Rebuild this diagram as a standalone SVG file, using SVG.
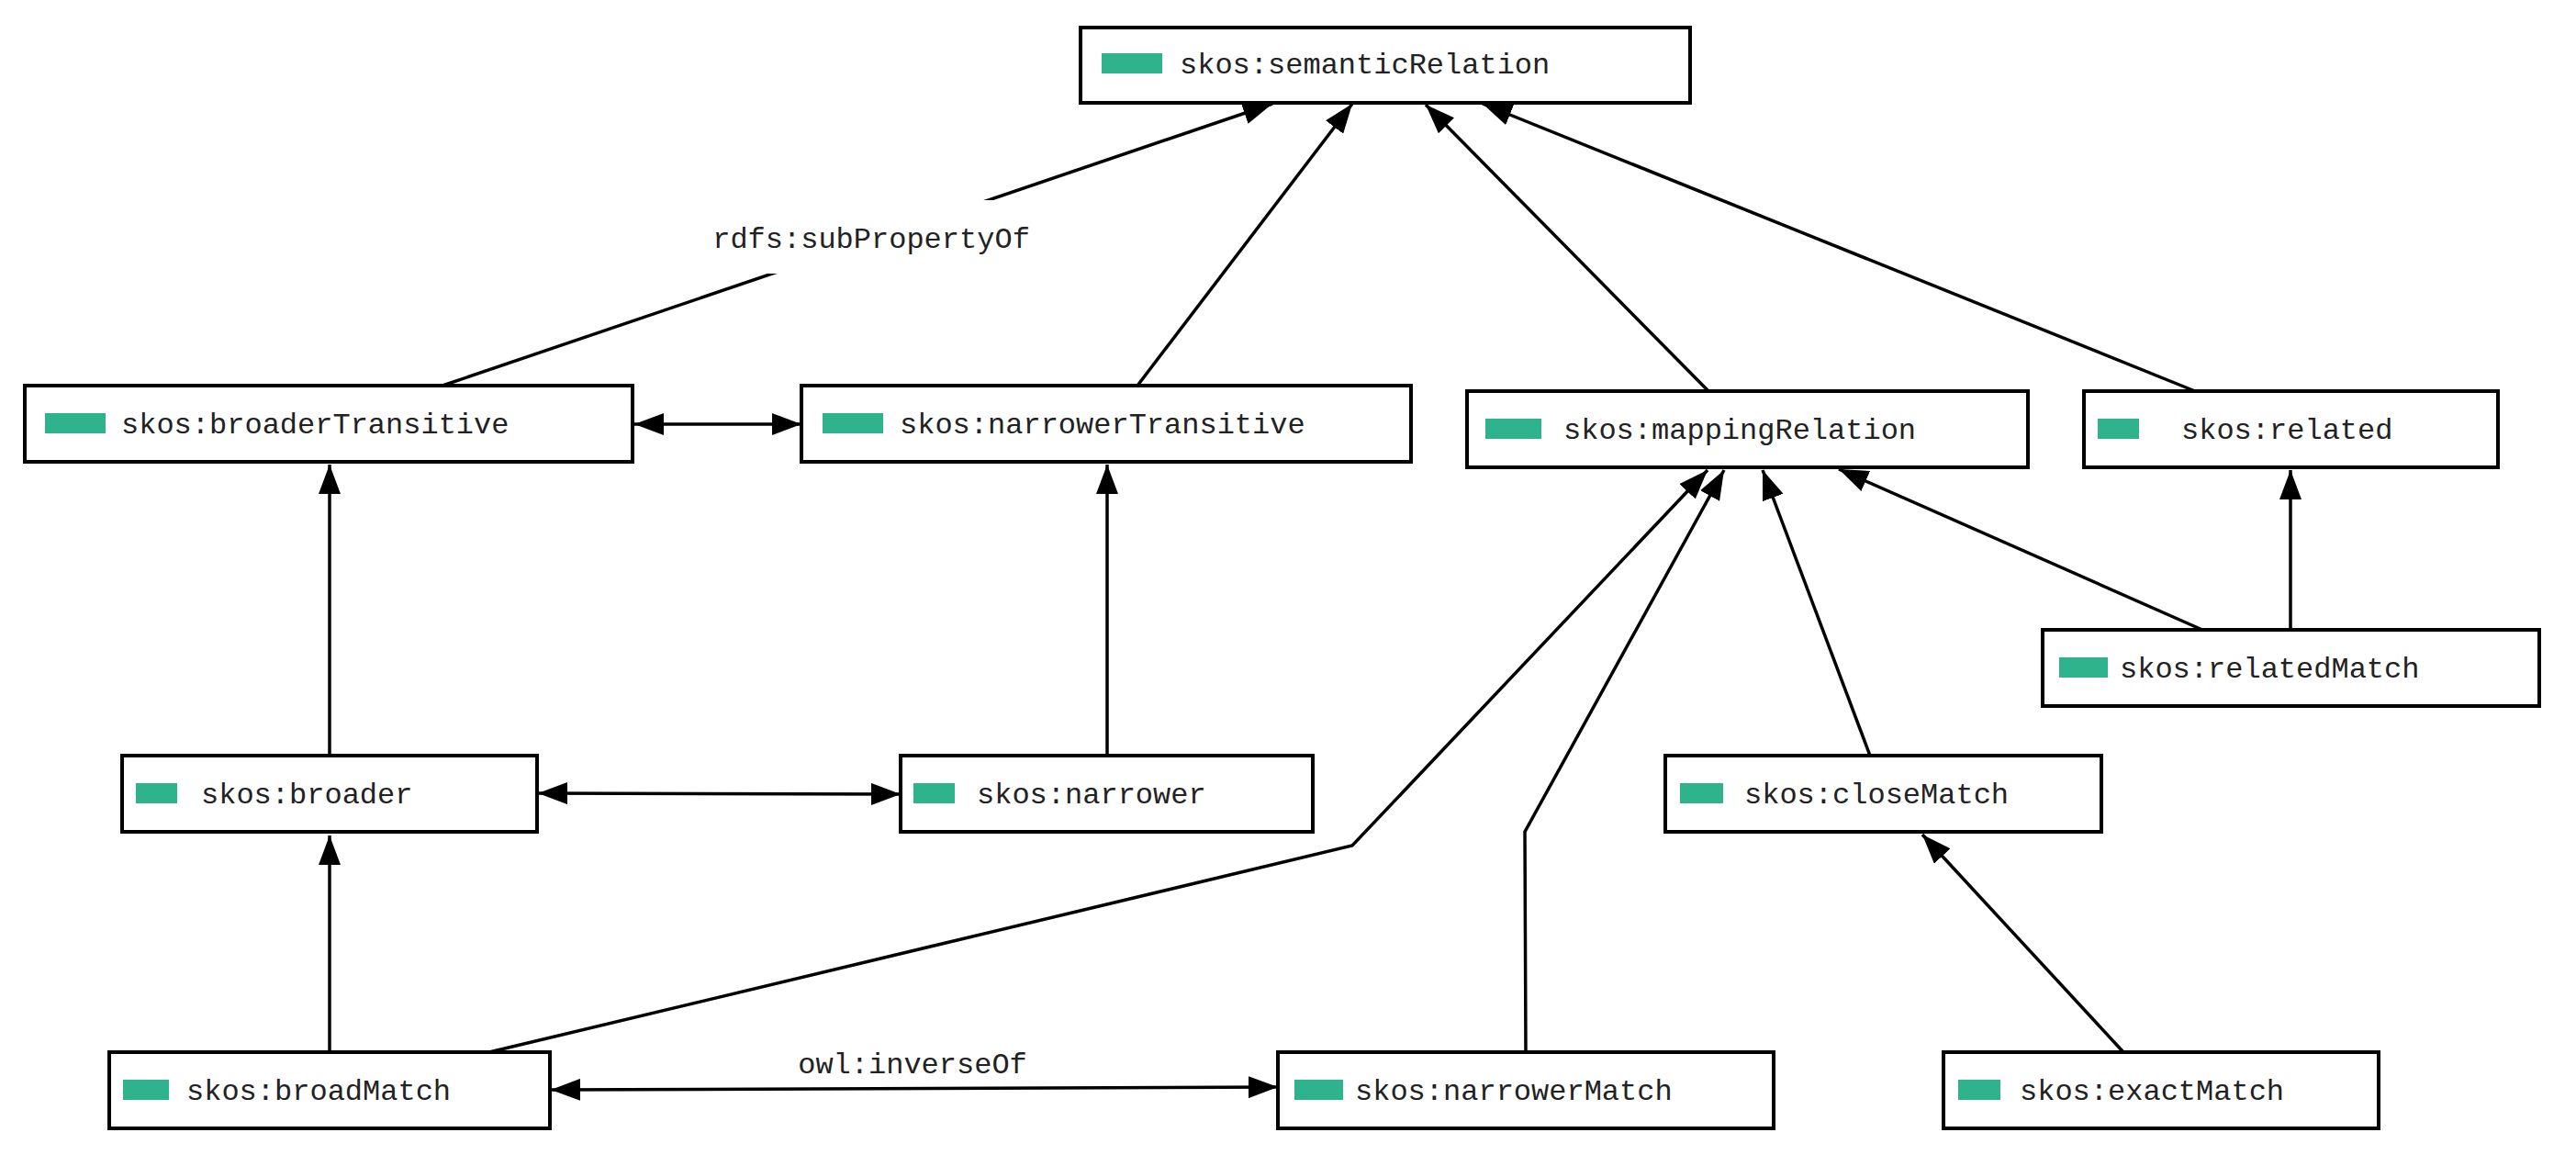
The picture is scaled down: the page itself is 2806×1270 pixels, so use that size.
<svg xmlns="http://www.w3.org/2000/svg" width="2806" height="1270" viewBox="0 0 2806 1270">
<defs>
<marker id="ah" viewBox="0 0 32 24" refX="32" refY="12" markerWidth="32" markerHeight="24" markerUnits="userSpaceOnUse" orient="auto-start-reverse"><path d="M0,0 L32,12 L0,24 Z" fill="#000"/></marker>
</defs>
<style>
.box{fill:#fff;stroke:#000;stroke-width:4}
.sw{fill:#2fb38c}
text{font-family:"Liberation Mono","DejaVu Sans Mono",monospace;font-size:32px;fill:#222}
.e{fill:none;stroke:#000;stroke-width:3.5}
.a{marker-end:url(#ah)}
.b{marker-start:url(#ah);marker-end:url(#ah)}
</style>
<rect width="2806" height="1270" fill="#fff"/>
<g id="connectors">
<path class="e a" d="M482,420 L1386,113"/>
<rect x="740" y="218" width="420" height="80" fill="#fff"/>
<text x="949" y="270" text-anchor="middle">rdfs:subPropertyOf</text>
<path class="e a" d="M1239,420 L1473,113"/>
<path class="e a" d="M1861,426 L1553,114"/>
<path class="e a" d="M2391,426 L1615,113"/>
<path class="e b" d="M691,462 L873,462"/>
<path class="e a" d="M359,823 L359,506"/>
<path class="e a" d="M1206,823 L1206,506"/>
<path class="e b" d="M586,864 L981,865"/>
<path class="e a" d="M359,1146 L359,910"/>
<path class="e a" d="M533,1146 L1473,921 L1860,512"/>
<path class="e a" d="M1662,1146 L1661,906 L1878,512"/>
<path class="e a" d="M2037,823 L1920,512"/>
<path class="e a" d="M2399,686 L2003,511"/>
<path class="e a" d="M2495,686 L2495,512"/>
<path class="e a" d="M2313,1146 L2094,909"/>
<path class="e b" d="M600,1187 L1392,1184"/>
<text x="994" y="1169" text-anchor="middle">owl:inverseOf</text>
</g>
<g id="semanticRelation"><rect class="box" x="1177" y="30" width="664" height="82"/><rect class="sw" x="1200" y="58" width="66" height="22"/><text x="1285" y="80">skos:semanticRelation</text></g>
<g id="broaderTransitive"><rect class="box" x="27" y="420" width="662" height="83"/><rect class="sw" x="49" y="450" width="66" height="22"/><text x="132" y="472">skos:broaderTransitive</text></g>
<g id="narrowerTransitive"><rect class="box" x="873" y="420" width="664" height="83"/><rect class="sw" x="896" y="450" width="66" height="22"/><text x="980" y="472">skos:narrowerTransitive</text></g>
<g id="mappingRelation"><rect class="box" x="1598" y="426" width="611" height="83"/><rect class="sw" x="1618" y="456" width="61" height="22"/><text x="1703" y="478">skos:mappingRelation</text></g>
<g id="related"><rect class="box" x="2270" y="426" width="451" height="83"/><rect class="sw" x="2285" y="456" width="45" height="22"/><text x="2376" y="478">skos:related</text></g>
<g id="relatedMatch"><rect class="box" x="2225" y="686" width="541" height="83"/><rect class="sw" x="2243" y="716" width="53" height="22"/><text x="2309" y="738">skos:relatedMatch</text></g>
<g id="broader"><rect class="box" x="133" y="823" width="452" height="83"/><rect class="sw" x="148" y="853" width="45" height="22"/><text x="219" y="875">skos:broader</text></g>
<g id="narrower"><rect class="box" x="981" y="823" width="449" height="83"/><rect class="sw" x="995" y="853" width="45" height="22"/><text x="1064" y="875">skos:narrower</text></g>
<g id="closeMatch"><rect class="box" x="1814" y="823" width="475" height="83"/><rect class="sw" x="1830" y="853" width="47" height="22"/><text x="1900" y="875">skos:closeMatch</text></g>
<g id="broadMatch"><rect class="box" x="119" y="1146" width="480" height="83"/><rect class="sw" x="134" y="1176" width="50" height="22"/><text x="203" y="1198">skos:broadMatch</text></g>
<g id="narrowerMatch"><rect class="box" x="1392" y="1146" width="540" height="83"/><rect class="sw" x="1410" y="1176" width="53" height="22"/><text x="1476" y="1198">skos:narrowerMatch</text></g>
<g id="exactMatch"><rect class="box" x="2117" y="1146" width="474" height="83"/><rect class="sw" x="2133" y="1176" width="46" height="22"/><text x="2200" y="1198">skos:exactMatch</text></g>
</svg>
